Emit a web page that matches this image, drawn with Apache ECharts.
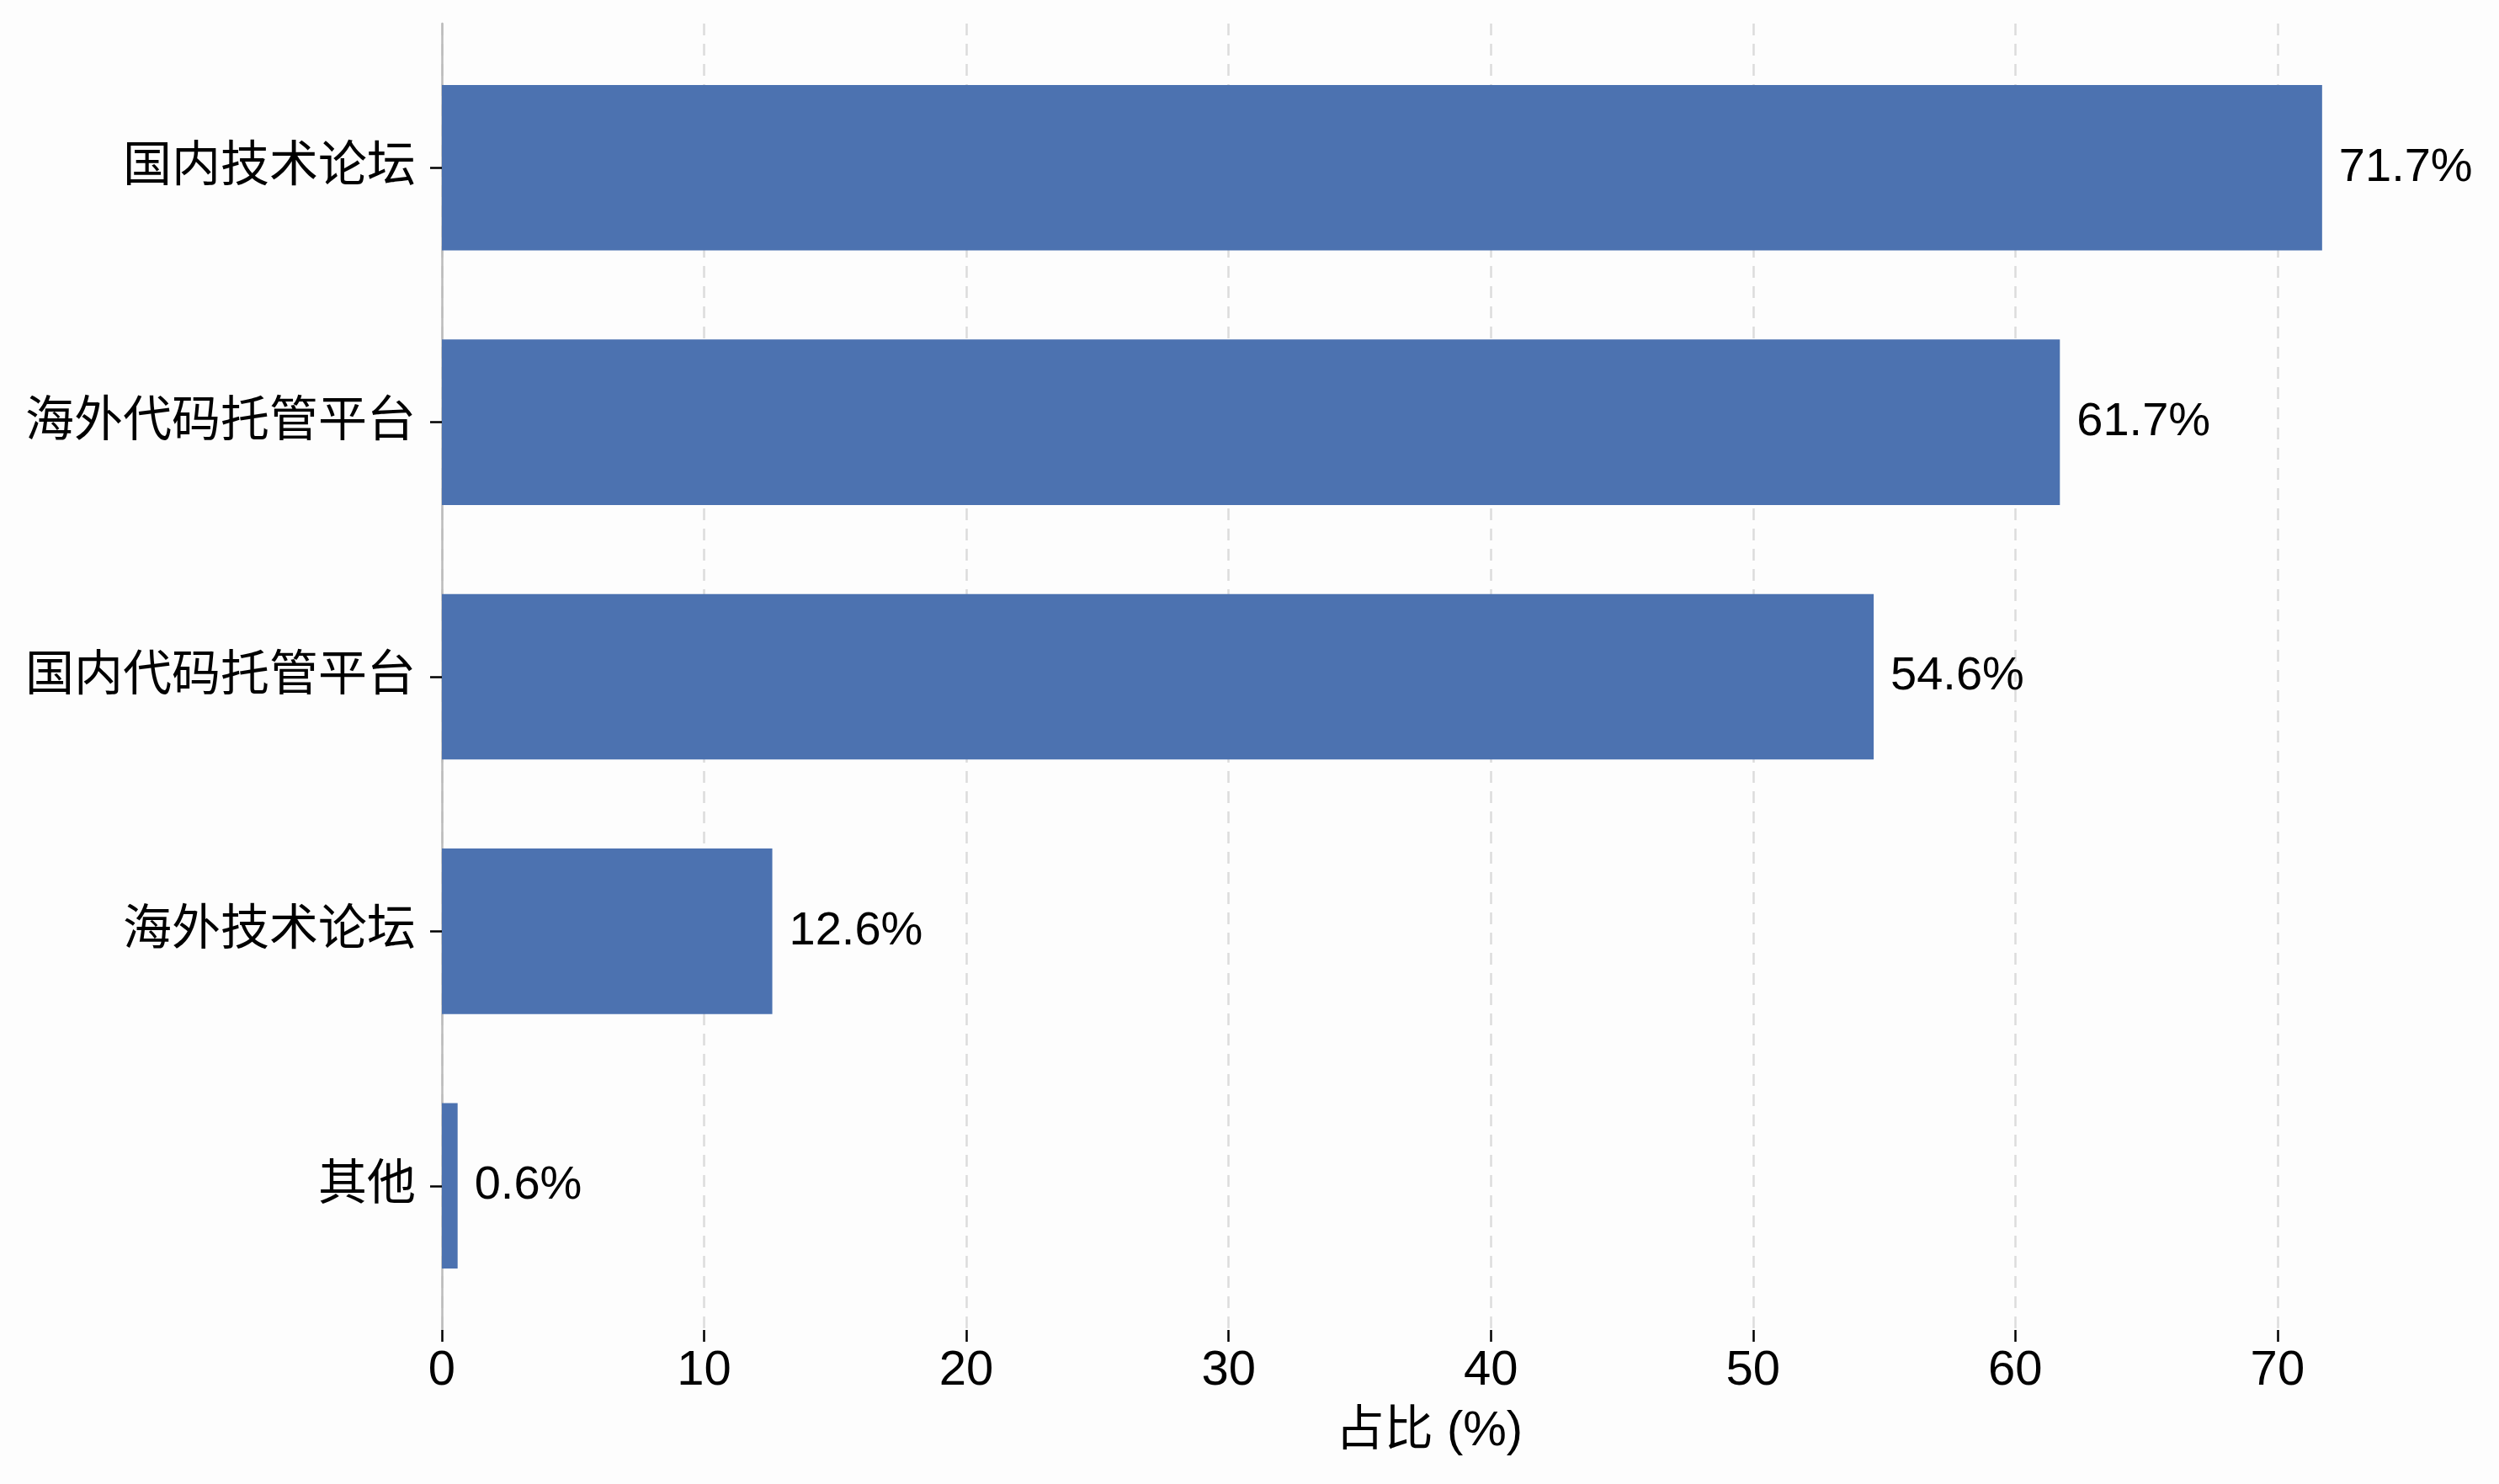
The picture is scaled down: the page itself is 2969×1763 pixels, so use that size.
<!DOCTYPE html>
<html>
<head>
<meta charset="utf-8">
<script src="https://cdn.jsdelivr.net/npm/echarts@6/dist/echarts.min.js"></script>
<style>html,body{margin:0;padding:0;background:#fdfdfd;}#c{width:2969px;height:1763px;}</style>
</head>
<body>
<div id="c"></div>
<script>
const categories = ['国内技术论坛', '海外代码托管平台', '国内代码托管平台', '海外技术论坛', '其他'];
const values = [71.7, 61.7, 54.6, 12.6, 0.6];
const xTicks = [0, 10, 20, 30, 40, 50, 60, 70];
const xMax = 75.3;
const xTitle = '占比 (%)';

const FONT = '"Liberation Sans", "Noto Sans CJK SC", sans-serif';
const chart = echarts.init(document.getElementById('c'), null, {renderer: 'canvas'});
chart.setOption({
  backgroundColor: '#fdfdfd',
  animation: false,
  grid: [
    {left: 525, right: 98, top: 48, bottom: 203, containLabel: false},
    {left: 525, right: 98, top: 28, bottom: 183, containLabel: false}
  ],
  xAxis: [
    {gridIndex: 0, type: 'value', min: 0, max: xMax, show: false, splitLine: {show: false}},
    {
      gridIndex: 1, type: 'value', min: 0, max: xMax,
      axisLine: {show: false},
      axisTick: {show: true, length: 14, customValues: xTicks, lineStyle: {color: '#000', width: 2.5}},
      axisLabel: {customValues: xTicks, color: '#000', fontSize: 58, fontFamily: FONT, margin: 20},
      splitLine: {show: true, lineStyle: {color: '#dcdcdc', type: [14, 10], width: 2.5}},
      name: xTitle, nameLocation: 'middle', nameGap: 92,
      nameTextStyle: {color: '#000', fontSize: 58, fontFamily: FONT}
    }
  ],
  yAxis: [
    {
      gridIndex: 0, type: 'category', inverse: true, data: categories,
      axisLine: {show: false},
      axisTick: {show: true, alignWithLabel: true, length: 14, lineStyle: {color: '#000', width: 2.5}},
      axisLabel: {color: '#000', fontSize: 58, fontFamily: FONT, margin: 31},
      splitLine: {show: false}
    },
    {
      gridIndex: 1, type: 'value', min: 0, max: 1,
      axisLine: {show: true, lineStyle: {color: '#bbbbbb', width: 2.5}},
      axisTick: {show: false}, axisLabel: {show: false}, splitLine: {show: false}
    }
  ],
  series: [{
    type: 'bar', xAxisIndex: 0, yAxisIndex: 0, data: values, barWidth: '65%',
    itemStyle: {color: '#4c72b0'},
    label: {show: true, position: 'right', distance: 20, color: '#000', fontSize: 56, fontFamily: FONT,
      formatter: p => p.value.toFixed(1) + '%'}
  }]
});
</script>
</body>
</html>
